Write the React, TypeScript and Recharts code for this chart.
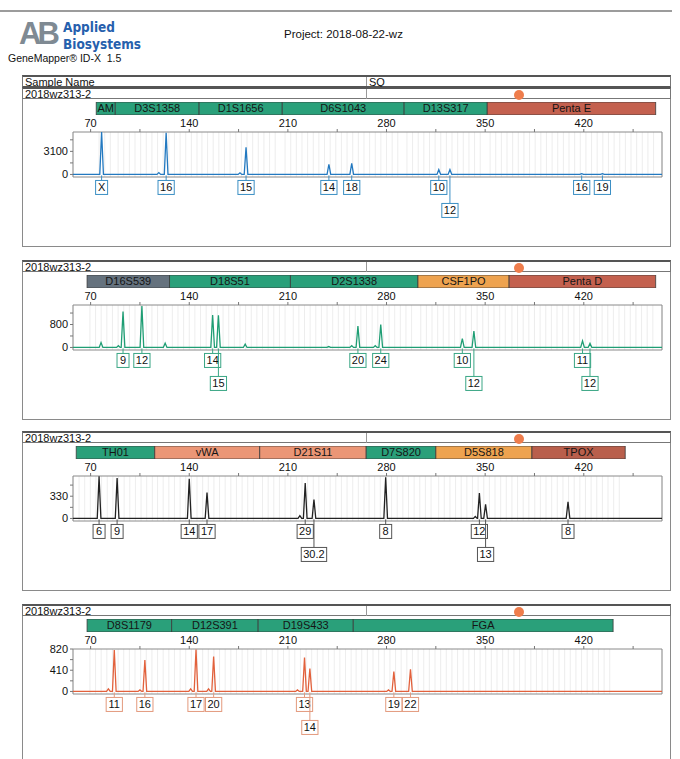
import React from 'react';
import {
  LineChart, Line, XAxis, YAxis, CartesianGrid, ReferenceArea, ReferenceDot,
  BarChart, Bar, LabelList,
} from 'recharts';

// size axis (bp)
const X_MIN = 57.5;
const X_MAX = 475.5;
const sizeTicks = [70, 105, 140, 175, 210, 245, 280, 315, 350, 385, 420, 455];

// blue dye
const blueMarkers = ['AM', 'D3S1358', 'D1S1656', 'D6S1043', 'D13S317', 'Penta E'];
const blueMarkerEdges = [74, 87.5, 147, 206, 292.5, 351.5, 471];
const blueAlleles = ['X', '16', '15', '14', '18', '10', '12', '16', '19'];
const bluePeakSize = [77.8, 123.6, 180.3, 239.1, 255.3, 317.1, 325.0, 418.5, 433.2];
const bluePeakHeight = [5700, 5600, 3650, 1370, 1500, 640, 640, 110, 110];
const blueMinorSize = [118.4, 176.0];
const blueMinorHeight = [250, 220];
const blueYMax = 5700;
const blueYTicks = [0, 1550, 3100, 4650];
const blueYLabels = [0, 3100];

// green dye
const greenMarkers = ['D16S539', 'D18S51', 'D2S1338', 'CSF1PO', 'Penta D'];
const greenMarkerEdges = [67.5, 126, 211.8, 302.3, 367, 471];
const greenAlleles = ['9', '12', '14', '15', '20', '24', '10', '12', '11', '12'];
const greenPeakSize = [93.0, 106.4, 156.6, 160.7, 259.7, 275.9, 333.8, 342.0, 419.1, 424.4];
const greenPeakHeight = [1250, 1440, 1130, 1120, 745, 800, 310, 570, 230, 140];
const greenMinorSize = [77.4, 89.7, 122.9, 179.7, 239.0, 255.3, 272.0];
const greenMinorHeight = [170, 60, 150, 115, 30, 60, 60];
const greenYMax = 1480;
const greenYTicks = [0, 400, 800, 1200];
const greenYLabels = [0, 800];

// yellow dye (drawn black)
const yellowMarkers = ['TH01', 'vWA', 'D21S11', 'D7S820', 'D5S818', 'TPOX'];
const yellowMarkerEdges = [59.8, 115.5, 190, 265.6, 315, 383.2, 449.4];
const yellowAlleles = ['6', '9', '14', '17', '29', '30.2', '8', '12', '13', '8'];
const yellowPeakSize = [76.0, 88.8, 140.0, 152.6, 222.3, 228.5, 279.4, 345.9, 350.3, 408.8];
const yellowPeakHeight = [625, 600, 590, 385, 524, 281, 610, 378, 209, 247];
const yellowMinorSize = [218.5, 343.0];
const yellowMinorHeight = [40, 30];
const yellowYMax = 630;
const yellowYTicks = [0, 165, 330, 495];
const yellowYLabels = [0, 330];

// red dye
const redMarkers = ['D8S1179', 'D12S391', 'D19S433', 'FGA'];
const redMarkerEdges = [67.5, 127.5, 188.9, 256.4, 440.8];
const redAlleles = ['11', '16', '17', '20', '13', '14', '19', '22'];
const redPeakSize = [86.8, 108.5, 144.8, 157.3, 221.8, 225.6, 285.2, 297.0];
const redPeakHeight = [800, 605, 810, 675, 653, 442, 384, 429];
const redMinorSize = [82.6, 105.0, 141.0, 153.7, 216.8, 281.4];
const redMinorHeight = [50, 30, 50, 50, 30, 30];
const redYMax = 820;
const redYTicks = [0, 205, 410, 615, 820];
const redYLabels = [0, 410, 820];

const sampleName = '2018wz313-2';

const FONT = '"Liberation Sans", Arial, Helvetica, sans-serif';
const NARROW = '"Liberation Sans Narrow", "DejaVu Sans Condensed", Arial, sans-serif';
const CHART_LEFT = 22;
const CHART_W = 650;
const Y_AXIS_W = 51;
const RIGHT_PAD = 10;
const PLOT_W = CHART_W - Y_AXIS_W - RIGHT_PAD;
const PX_PER_BP = PLOT_W / (X_MAX - X_MIN);
const PEAK_HALF = 1.3;

const GREEN = '#2aa07a';
const ORANGE = '#eea350';
const SALMON = '#eb9676';
const BRICK = '#c4614f';

const charW = (c: string) => (c === '.' ? 0.278 : c === 'X' ? 0.667 : 0.556);
const tagWidth = (t: string) => Math.max(12, t.split('').reduce((a, c) => a + charW(c) * 11, 0) + 4);

// peaks -> a simple trace along the baseline
function buildTrace(sizes: number[], heights: number[], minorSizes: number[], minorHeights: number[]) {
  const peaks = sizes.map((s, i) => [s, heights[i]]).concat(minorSizes.map((s, i) => [s, minorHeights[i]]));
  peaks.sort((a, b) => a[0] - b[0]);
  const pts: { bp: number; h: number }[] = [{ bp: X_MIN, h: 0 }];
  peaks.forEach(([s, h]) => {
    pts.push({ bp: s - PEAK_HALF, h: 0 }, { bp: s, h }, { bp: s + PEAK_HALF, h: 0 });
  });
  pts.push({ bp: X_MAX, h: 0 });
  return pts;
}

// GeneMapper drops a label to the 2nd row when it would hit its neighbour
function layoutTags(alleles: string[], sizes: number[]) {
  let lastRight = -1e9;
  return alleles.map((a, i) => {
    const px = (sizes[i] - X_MIN) * PX_PER_BP;
    const w = tagWidth(a);
    let row = 0;
    if (px - w / 2 < lastRight - 1) row = 1;
    else lastRight = px + w / 2;
    return { text: a, bp: sizes[i], row };
  });
}

const AlleleTag = (props: any) => {
  const { cx, cy, text, row, color } = props;
  const w = tagWidth(text);
  const top = cy + 6 + row * 23;
  return (
    <g>
      <line x1={cx} y1={cy + 1} x2={cx} y2={top} stroke={color} strokeWidth={1} />
      <rect x={cx - w / 2} y={top} width={w} height={14} fill="#fff" stroke={color} strokeWidth={1} />
      <text x={cx} y={top + 11} textAnchor="middle" fontSize={11} fill="#111">{text}</text>
    </g>
  );
};

type PanelProps = {
  top: number;
  height: number;
  markers: string[];
  edges: number[];
  markerColors: string[];
  alleles: string[];
  sizes: number[];
  heights: number[];
  minorSizes: number[];
  minorHeights: number[];
  yMax: number;
  yTicks: number[];
  yLabels: number[];
  color: string;
  tagColor: string;
};

const Panel = (p: PanelProps) => {
  const trace = buildTrace(p.sizes, p.heights, p.minorSizes, p.minorHeights);
  const tags = layoutTags(p.alleles, p.sizes);
  const yMin = -p.yMax * 0.06;

  const barRow: Record<string, any> = { name: 'bins', gap: p.edges[0] };
  p.markers.forEach((m, i) => { barRow['m' + i] = p.edges[i + 1] - p.edges[i]; });

  const bins: number[] = [];
  p.edges.slice(0, -1).forEach((e, i) => {
    for (let b = e + 2; b < p.edges[i + 1] - 1; b += 4) bins.push(b);
  });

  return (
    <>
      <div style={{
        position: 'absolute', left: 22, top: p.top, width: 649, height: p.height,
        border: '1px solid #8a8a8a', boxSizing: 'border-box',
      }} />
      <div style={{
        position: 'absolute', left: 22, top: p.top, width: 649, height: 12,
        borderTop: '2px solid #555', borderBottom: '1px solid #777', borderLeft: '1px solid #777',
        borderRight: '1px solid #777', boxSizing: 'border-box', fontSize: 11, lineHeight: '10px',
        paddingLeft: 2,
      }}>
        {sampleName}
        <div style={{ position: 'absolute', left: 343, top: 0, width: 1, height: 10, background: '#999' }} />
      </div>
      <div style={{
        position: 'absolute', left: 514, top: p.top + 3, width: 10, height: 10, borderRadius: 5,
        background: '#ef7d4c',
      }} />

      <div style={{ position: 'absolute', left: CHART_LEFT, top: p.top + 15 }}>
        <BarChart layout="vertical" width={CHART_W} height={13} data={[barRow]} barCategoryGap={0}
          margin={{ top: 0, right: RIGHT_PAD, bottom: 0, left: Y_AXIS_W }}>
          <XAxis type="number" domain={[X_MIN, X_MAX]} allowDataOverflow hide />
          <YAxis type="category" dataKey="name" hide />
          <Bar dataKey="gap" stackId="m" fill="transparent" isAnimationActive={false} />
          {p.markers.map((m, i) => (
            <Bar key={m} dataKey={'m' + i} stackId="m" fill={p.markerColors[i]} stroke="#3a3a3a"
              strokeWidth={0.8} isAnimationActive={false}>
              <LabelList dataKey={'m' + i} position="center" formatter={() => m}
                fill="#151515" stroke="none" fontSize={11} />
            </Bar>
          ))}
        </BarChart>
      </div>

      <div style={{ position: 'absolute', left: CHART_LEFT, top: p.top + 12 }}>
        <LineChart width={CHART_W} height={130} data={trace}
          margin={{ top: 19, right: RIGHT_PAD, bottom: 52, left: 0 }}>
          <CartesianGrid xAxisId="bins" horizontal={false} stroke="#e8e8e8" strokeWidth={0.8} />
          <XAxis xAxisId="bins" type="number" dataKey="bp" domain={[X_MIN, X_MAX]} ticks={bins}
            interval={0} hide allowDataOverflow />
          <XAxis type="number" dataKey="bp" orientation="top" domain={[X_MIN, X_MAX]} ticks={sizeTicks}
            interval={0} tickFormatter={(v: number) => (v % 70 === 0 ? String(v) : '')}
            tick={{ fontSize: 11, fill: '#111' }} tickSize={3} tickLine={{ stroke: '#777' }}
            axisLine={false} height={14} allowDataOverflow />
          <YAxis type="number" domain={[yMin, p.yMax]} ticks={p.yTicks} interval={0}
            tickFormatter={(v: number) => (p.yLabels.includes(v) ? String(v) : '')}
            tick={{ fontSize: 11, fill: '#111' }} tickSize={3} tickLine={{ stroke: '#777' }}
            axisLine={false} width={Y_AXIS_W} allowDataOverflow />
          <ReferenceArea x1={X_MIN} x2={X_MAX} y1={yMin} y2={p.yMax} fill="none" stroke="#8a8a8a" />
          <Line dataKey="h" type="linear" stroke={p.color} strokeWidth={1.3} dot={false}
            isAnimationActive={false} />
          {tags.map((t, i) => (
            <ReferenceDot key={i} x={t.bp} y={0} r={0} ifOverflow="visible"
              shape={(sp: any) => <AlleleTag {...sp} text={t.text} row={t.row} color={p.tagColor} />} />
          ))}
        </LineChart>
      </div>
    </>
  );
};

export default function App() {
  return (
    <div style={{
      position: 'absolute', left: 0, top: 0, width: 680, height: 759, overflow: 'hidden',
      background: '#fff', fontFamily: FONT, color: '#111',
    }}>
      <div style={{ position: 'absolute', left: 0, top: 10, width: 672, height: 2, background: '#9c9c9c' }} />

      <div style={{
        position: 'absolute', left: 19, top: 17, fontSize: 31, fontWeight: 'bold', color: '#7f8a93',
        letterSpacing: -4, fontFamily: FONT, lineHeight: '34px',
      }}>AB</div>
      <div style={{
        position: 'absolute', left: 63, top: 21, fontSize: 13.5, lineHeight: '13px', fontWeight: 'bold',
        color: '#2660ad', fontFamily: NARROW,
      }}>Applied</div>
      <div style={{
        position: 'absolute', left: 63, top: 38, fontSize: 13.5, lineHeight: '13px', fontWeight: 'bold',
        color: '#2660ad', fontFamily: NARROW,
      }}>Biosystems</div>
      <div style={{ position: 'absolute', left: 8, top: 52, fontSize: 10.5 }}>GeneMapper® ID-X&nbsp;&nbsp;1.5</div>
      <div style={{ position: 'absolute', left: 284, top: 28, fontSize: 11.5 }}>Project: 2018-08-22-wz</div>

      <div style={{
        position: 'absolute', left: 22, top: 75, width: 649, height: 13, borderTop: '2px solid #555',
        borderLeft: '1px solid #777', borderRight: '1px solid #777', borderBottom: '2px solid #555',
        boxSizing: 'border-box', fontSize: 11, lineHeight: '10px', paddingLeft: 2,
      }}>
        Sample Name
        <span style={{ position: 'absolute', left: 346 }}>SQ</span>
        <div style={{ position: 'absolute', left: 343, top: 0, width: 1, height: 9, background: '#999' }} />
      </div>

      <Panel top={87} height={160} markers={blueMarkers} edges={blueMarkerEdges}
        markerColors={[GREEN, GREEN, GREEN, GREEN, GREEN, BRICK]}
        alleles={blueAlleles} sizes={bluePeakSize} heights={bluePeakHeight}
        minorSizes={blueMinorSize} minorHeights={blueMinorHeight}
        yMax={blueYMax} yTicks={blueYTicks} yLabels={blueYLabels} color="#2379c0" tagColor="#3b8fc4" />
      <Panel top={260} height={160} markers={greenMarkers} edges={greenMarkerEdges}
        markerColors={['#65727e', GREEN, GREEN, ORANGE, BRICK]}
        alleles={greenAlleles} sizes={greenPeakSize} heights={greenPeakHeight}
        minorSizes={greenMinorSize} minorHeights={greenMinorHeight}
        yMax={greenYMax} yTicks={greenYTicks} yLabels={greenYLabels} color="#1f9e74" tagColor="#3aa685" />
      <Panel top={431} height={160} markers={yellowMarkers} edges={yellowMarkerEdges}
        markerColors={[GREEN, SALMON, SALMON, GREEN, ORANGE, '#b95f4c']}
        alleles={yellowAlleles} sizes={yellowPeakSize} heights={yellowPeakHeight}
        minorSizes={yellowMinorSize} minorHeights={yellowMinorHeight}
        yMax={yellowYMax} yTicks={yellowYTicks} yLabels={yellowYLabels} color="#222" tagColor="#555" />
      <Panel top={604} height={170} markers={redMarkers} edges={redMarkerEdges}
        markerColors={[GREEN, GREEN, GREEN, GREEN]}
        alleles={redAlleles} sizes={redPeakSize} heights={redPeakHeight}
        minorSizes={redMinorSize} minorHeights={redMinorHeight}
        yMax={redYMax} yTicks={redYTicks} yLabels={redYLabels} color="#e2613c" tagColor="#e39a7d" />
    </div>
  );
}
